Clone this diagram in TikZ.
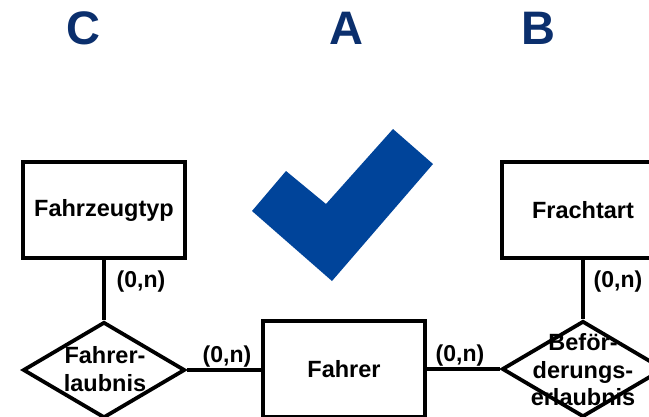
\documentclass[tikz,border=0pt]{standalone}
\usepackage{fontspec}
\setmainfont{Liberation Sans}
\usetikzlibrary{shapes.geometric}
\definecolor{navy}{HTML}{0B2F6D}
\definecolor{tickblue}{HTML}{00449A}
\begin{document}
\begin{tikzpicture}[x=1pt,y=-1pt,
  entity/.style={draw,line width=3.8pt,minimum width=162pt,minimum height=96pt,inner sep=0pt,
    font=\fontsize{23.5}{27}\selectfont\bfseries},
  relation/.style={draw,diamond,line width=3.8pt,minimum width=162pt,minimum height=96pt,inner sep=0pt},
  reltext/.style={align=center,font=\fontsize{23.5}{27.5}\selectfont\bfseries},
  card/.style={font=\fontsize{23}{27}\selectfont\bfseries,inner sep=0pt},
  letter/.style={text=navy,font=\fontsize{47}{50}\selectfont\bfseries,inner sep=0pt},
  link/.style={line width=3.8pt}]
\useasboundingbox (0,0) rectangle (649,416);
\clip (0,0) rectangle (649,416);
\fill[white] (0,0) rectangle (649,416);

% column letters
\node[letter] (lc) at (83,28.5) {C};
\node[letter] (la) at (346.5,28.5) {A};
\node[letter] (lb) at (538,28.5) {B};

% tick mark
\fill[tickblue] (286,171) -- (252,211) -- (332,281) -- (433,164) -- (393,129) -- (326,204) -- cycle;

% entities
\node[entity] (typ) at (104,210) {Fahrzeugtyp};
\node[entity] (fracht) at (583,210) {Frachtart};
\node[entity] (fahrer) at (344,369) {Fahrer};

% relationships
\node[relation] (erl) at (104,370) {};
\node[relation] (bef) at (583,369) {};

% connectors
\draw[link] (typ.south) -- (erl.north);
\draw[link] (erl.east) -- (fahrer.west |- erl.east);
\draw[link] (fracht.south) -- (bef.north);
\draw[link] (fahrer.east |- bef.west) -- (bef.west);

% relationship names
\node[reltext] (erlt) at (105,369) {Fahrer-\\laubnis};
\node[reltext] (beft) at (583,370) {Beför-\\derungs-\\erlaubnis};

% cardinalities
\node[card] (c1) at (141,282) {(0,n)};
\node[card] (c2) at (227,357) {(0,n)};
\node[card] (c3) at (460,356) {(0,n)};
\node[card] (c4) at (618,282) {(0,n)};
\end{tikzpicture}
\end{document}
